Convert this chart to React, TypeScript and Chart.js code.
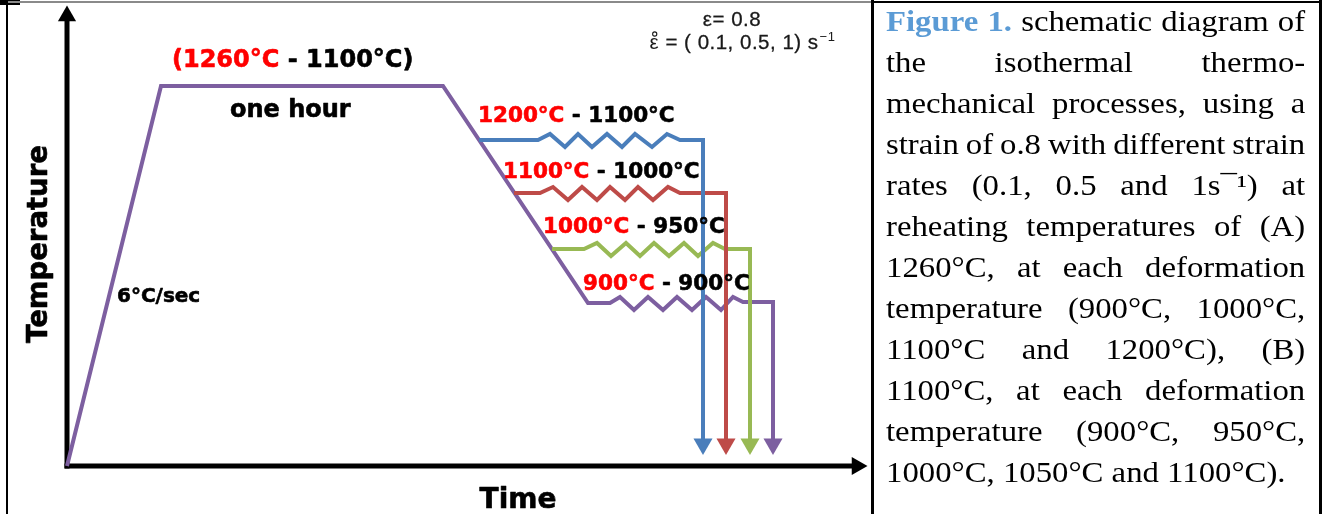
import React, { useEffect, useRef } from "react";
import { Chart, registerables } from "chart.js";

Chart.register(...registerables);

// ---- Schematic data (time units on x, temperature units on y; origin = axes corner) ----
// Reheating + holding + cooling path that ends with the 900°C deformation pass (purple)
const reheatTime = [0, 94, 376, 521, 543, 553, 567, 581, 596, 610, 625, 639, 654, 666, 676, 706, 706];
const reheatTemp = [0, 380, 380, 163, 163, 169, 156, 169, 156, 169, 156, 169, 156, 169, 164, 164, 22];
// 1200°C pass (blue)
const pass1200Time = [412, 471, 483, 498, 511, 525, 540, 555, 568, 585, 600, 613, 636, 636];
const pass1200Temp = [326, 326, 332, 319, 332, 319, 332, 319, 332, 319, 332, 326, 326, 22];
// 1100°C pass (red)
const pass1100Time = [447, 473, 486, 501, 515, 530, 543, 558, 571, 586, 601, 613, 659, 659];
const pass1100Temp = [273, 273, 279, 266, 279, 266, 279, 266, 279, 266, 279, 273, 273, 22];
// 1000°C pass (green)
const pass1000Time = [485, 517, 530, 544, 559, 573, 587, 602, 617, 631, 646, 658, 683, 683];
const pass1000Temp = [217, 217, 223, 210, 223, 210, 223, 210, 223, 210, 223, 217, 217, 22];
// axes
const timeAxis = [0, 790];
const tempAxis = [0, 450];

// text
const reheatRange = ["(1260°C", " - 1100°C)"];
const hotTemps = ["1200°C", "1100°C", "1000°C", "900°C"];
const deformTemps = [" - 1100°C", " - 1000°C", " - 950°C", " - 900°C"];
const strainText = "ε= 0.8";
const strainRateSymbol = "ε";
const strainRateText = " = ( 0.1, 0.5, 1) s";
const strainRateUnitSup = "−1";
const captionLines: string[][] = [
  ["Figure", "1.", "schematic", "diagram", "of"],
  ["the", "isothermal", "thermo-"],
  ["mechanical", "processes,", "using", "a"],
  ["strain", "of", "o.8", "with", "different", "strain"],
  ["rates", "(0.1,", "0.5", "and", "1s¯¹)", "at"],
  ["reheating", "temperatures", "of", "(A)"],
  ["1260°C,", "at", "each", "deformation"],
  ["temperature", "(900°C,", "1000°C,"],
  ["1100°C", "and", "1200°C),", "(B)"],
  ["1100°C,", "at", "each", "deformation"],
  ["temperature", "(900°C,", "950°C,"],
];
const captionLast = "1000°C, 1050°C and 1100°C).";

// label anchors (time, temp) — layout only
const labelPos = {
  reheat: [105, 399],
  hour: [163, 349],
  rate: [50, 164],
  passes: [[411, 344], [436, 288], [476, 233], [516, 176]],
  time: [451, -42],
  temp: [-20, 222],
  strain: [665, 440],
  strainRate: [675, 417],
};

const BLUE = "#4a7ebb";
const RED = "#be4b48";
const GREEN = "#98b954";
const PURPLE = "#7d5fa0";
const LABEL_RED = "#ff0000";

const pts = (xs: number[], ys: number[]) => xs.map((x, i) => ({ x, y: ys[i] }));
const arrowRadii = (n: number, r: number) => Array.from({ length: n }, (_, i) => (i === n - 1 ? r : 0));

function pathDataset(xs: number[], ys: number[], color: string) {
  return {
    data: pts(xs, ys),
    borderColor: color,
    backgroundColor: color,
    borderWidth: 4,
    tension: 0,
    fill: false,
    pointStyle: "triangle",
    pointRotation: 180,
    pointRadius: arrowRadii(xs.length, 11),
    pointBorderWidth: 0,
    pointBackgroundColor: color,
    borderJoinStyle: "miter",
    clip: false,
  };
}

const textPlugin = {
  id: "schematicText",
  afterDatasetsDraw(chart: any) {
    const ctx = chart.ctx as CanvasRenderingContext2D;
    const xs = chart.scales.x;
    const ys = chart.scales.y;
    const px = (v: number) => xs.getPixelForValue(v);
    const py = (v: number) => ys.getPixelForValue(v);
    const bold = (s: number) => `bold ${s}px "DejaVu Sans"`;
    ctx.save();
    ctx.textBaseline = "alphabetic";
    ctx.textAlign = "left";
    ctx.lineWidth = 0.6;
    ctx.lineJoin = "round";
    const segs = (parts: [string, string][], x: number, y: number, size: number) => {
      ctx.font = bold(size);
      let cx = x;
      for (const [t, c] of parts) {
        ctx.fillStyle = c;
        ctx.strokeStyle = c;
        ctx.fillText(t, cx, y);
        ctx.strokeText(t, cx, y);
        cx += ctx.measureText(t).width;
      }
    };
    segs([[reheatRange[0], LABEL_RED], [reheatRange[1], "#000"]], px(labelPos.reheat[0]), py(labelPos.reheat[1]), 24);
    segs([["one hour", "#000"]], px(labelPos.hour[0]), py(labelPos.hour[1]), 24);
    segs([["6°C/sec", "#000"]], px(labelPos.rate[0]), py(labelPos.rate[1]), 20);
    hotTemps.forEach((h, i) => {
      const [lx, ly] = labelPos.passes[i];
      segs([[h, LABEL_RED], [deformTemps[i], "#000"]], px(lx), py(ly), 21.5);
    });
    // axis titles
    ctx.fillStyle = "#000";
    ctx.strokeStyle = "#000";
    ctx.font = bold(28);
    ctx.textAlign = "center";
    ctx.fillText("Time", px(labelPos.time[0]), py(labelPos.time[1]));
    ctx.strokeText("Time", px(labelPos.time[0]), py(labelPos.time[1]));
    ctx.save();
    ctx.translate(px(labelPos.temp[0]), py(labelPos.temp[1]));
    ctx.rotate(-Math.PI / 2);
    ctx.font = bold(27.5);
    ctx.fillText("Temperature", 0, 0);
    ctx.strokeText("Temperature", 0, 0);
    ctx.restore();
    // strain annotation
    (ctx as any).letterSpacing = "0.5px";
    ctx.fillStyle = "#1a1a1a";
    ctx.strokeStyle = "#1a1a1a";
    ctx.lineWidth = 0.3;
    ctx.font = `20.5px "Liberation Sans"`;
    ctx.fillText(strainText, px(labelPos.strain[0]), py(labelPos.strain[1]));
    ctx.strokeText(strainText, px(labelPos.strain[0]), py(labelPos.strain[1]));
    ctx.textAlign = "left";
    const symW = ctx.measureText(strainRateSymbol).width;
    const mainW = symW + ctx.measureText(strainRateText).width;
    ctx.font = `13px "Liberation Sans"`;
    const supW = ctx.measureText(strainRateUnitSup).width;
    const sx = px(labelPos.strainRate[0]) - (mainW + supW) / 2;
    const sy = py(labelPos.strainRate[1]);
    ctx.font = `20.5px "Liberation Sans"`;
    ctx.fillText(strainRateSymbol, sx, sy);
    ctx.fillText(strainRateText, sx + symW, sy);
    ctx.strokeText(strainRateText, sx + symW, sy);
    // small ring (rate) accent over the epsilon
    ctx.beginPath();
    ctx.lineWidth = 1.1;
    ctx.arc(sx + symW / 2 + 0.3, sy - 15, 2.1, 0, Math.PI * 2);
    ctx.stroke();
    ctx.font = `13px "Liberation Sans"`;
    ctx.fillText(strainRateUnitSup, sx + mainW + 1, sy - 8);
    ctx.restore();
  },
};

function SchematicChart() {
  const ref = useRef<HTMLCanvasElement | null>(null);
  useEffect(() => {
    if (!ref.current) return;
    const axisStyle = {
      borderColor: "#000",
      backgroundColor: "#000",
      borderWidth: 5,
      tension: 0,
      fill: false,
      pointStyle: "triangle",
      pointBorderWidth: 0,
      pointBackgroundColor: "#000",
      borderCapStyle: "square",
      clip: false,
    };
    const chart = new Chart(ref.current, {
      type: "line",
      data: {
        datasets: [
          pathDataset(pass1200Time, pass1200Temp, BLUE),
          pathDataset(pass1100Time, pass1100Temp, RED),
          pathDataset(pass1000Time, pass1000Temp, GREEN),
          pathDataset(reheatTime, reheatTemp, PURPLE),
          { ...axisStyle, data: pts([0, 0], tempAxis), pointRadius: [0, 10.5], pointRotation: 0 },
          { ...axisStyle, data: pts(timeAxis, [0, 0]), pointRadius: [0, 10.5], pointRotation: 90 },
        ] as any,
      },
      options: {
        animation: false,
        responsive: false,
        maintainAspectRatio: false,
        events: [],
        layout: { padding: 0, autoPadding: false },
        plugins: { legend: { display: false }, tooltip: { enabled: false }, title: { display: false } },
        scales: {
          x: { type: "linear", display: false, min: -67, max: 805 },
          y: { type: "linear", display: false, min: -48, max: 466 },
        },
      } as any,
      plugins: [textPlugin],
    });
    return () => chart.destroy();
  }, []);
  return <canvas ref={ref} width={872} height={514} style={{ position: "absolute", left: 0, top: 0, width: 872, height: 514 }} />;
}

function Caption() {
  return (
    <div
      style={{
        position: "absolute",
        left: 886,
        top: 1,
        width: 371,
        transform: "scaleX(1.13)",
        transformOrigin: "0 0",
        fontFamily: '"Liberation Serif", "Times New Roman", serif',
        fontSize: 29,
        lineHeight: "41px",
        color: "#000",
      }}
    >
      {captionLines.map((words, i) => (
        <div key={i} style={{ display: "flex", justifyContent: "space-between", whiteSpace: "nowrap", height: 41 }}>
          {words.map((w, j) =>
            i === 0 && j < 2 ? (
              <span key={j} style={{ color: "#5b9bd5", fontWeight: "bold" }}>{w}</span>
            ) : (
              <span key={j}>{w}</span>
            )
          )}
        </div>
      ))}
      <div style={{ whiteSpace: "nowrap", height: 41 }}>{captionLast}</div>
    </div>
  );
}

export default function App() {
  return (
    <div style={{ position: "absolute", left: 0, top: 0, width: 1328, height: 514, background: "#fff", overflow: "hidden" }}>
      <SchematicChart />
      {/* frame lines */}
      <div style={{ position: "absolute", left: 6, top: 0, width: 2, height: 514, background: "#000" }} />
      <div style={{ position: "absolute", left: 0, top: 0, width: 20, height: 5, background: "#000" }} />
      <div style={{ position: "absolute", left: 8, top: 1, width: 864, height: 2, background: "#8a8a8a" }} />
      <div style={{ position: "absolute", left: 871, top: 0, width: 3, height: 514, background: "#000" }} />
      <div style={{ position: "absolute", left: 872, top: 1, width: 450, height: 2, background: "#000" }} />
      <div style={{ position: "absolute", left: 1319, top: 0, width: 3, height: 514, background: "#000" }} />
      <Caption />
    </div>
  );
}
